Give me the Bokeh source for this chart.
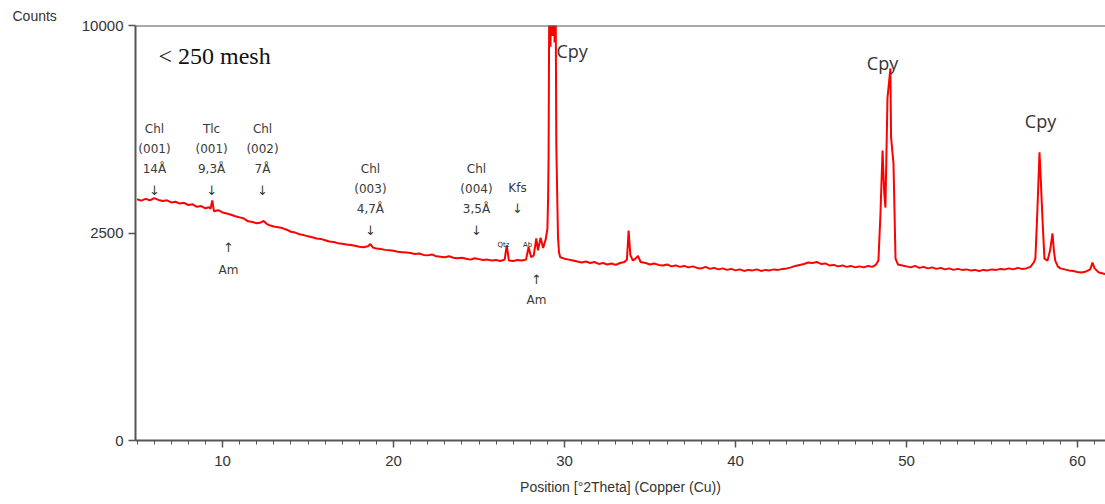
import numpy as np
from bokeh.plotting import figure
from bokeh.models import Range1d, FixedTicker, SingleIntervalTicker, Span, Title
from bokeh.core.properties import value
from bokeh.embed import file_html
from bokeh.resources import INLINE

# ---------------- data ----------------
two_theta = [
    5.00, 5.25, 5.50, 5.75, 6.00, 6.25, 6.50, 6.75, 7.00, 7.25, 7.50, 7.75, 8.00, 8.25, 8.50, 8.75,
    9.00, 9.20, 9.30, 9.40, 9.50, 9.75, 10.00, 10.25, 10.50, 10.75, 11.00, 11.25, 11.50, 11.75,
    12.00, 12.25, 12.40, 12.60, 12.75, 13.00, 13.25, 13.50, 13.75, 14.00, 14.25, 14.50, 14.75,
    15.00, 15.25, 15.50, 15.75, 16.00, 16.25, 16.50, 16.75, 17.00, 17.25, 17.50, 17.75, 18.00,
    18.25, 18.50, 18.65, 18.80, 19.00, 19.25, 19.50, 19.75, 20.00, 20.25, 20.50, 20.75, 21.00,
    21.25, 21.50, 21.75, 22.00, 22.25, 22.50, 22.75, 23.00, 23.25, 23.50, 23.75, 24.00, 24.25,
    24.50, 24.75, 25.00, 25.25, 25.50, 25.75, 26.00, 26.25, 26.50, 26.62, 26.75, 27.00, 27.25,
    27.50, 27.75, 27.90, 28.05, 28.20, 28.35, 28.45, 28.60, 28.75, 28.90, 29.00, 29.04, 29.07,
    29.12, 29.18, 29.24, 29.30, 29.36, 29.42, 29.47,
    29.52, 29.57, 29.62, 29.68, 29.75, 30.00, 30.25, 30.50, 30.75, 31.00, 31.25, 31.50, 31.75,
    32.00, 32.25, 32.50, 32.75, 33.00, 33.25, 33.50, 33.65, 33.75, 33.85, 34.00, 34.15, 34.30,
    34.45, 34.75, 35.00, 35.25, 35.50, 35.75, 36.00, 36.25, 36.50, 36.75, 37.00, 37.25, 37.50,
    37.75, 38.00, 38.25, 38.50, 38.75, 39.00, 39.25, 39.50, 39.75, 40.00, 40.25, 40.50, 40.75,
    41.00, 41.25, 41.50, 41.75, 42.00, 42.25, 42.50, 42.75, 43.00, 43.25, 43.50, 43.75, 44.00,
    44.25, 44.50, 44.75, 45.00, 45.25, 45.50, 45.75, 46.00, 46.25, 46.50, 46.75, 47.00, 47.25,
    47.50, 47.75, 48.00, 48.20, 48.36, 48.48, 48.60, 48.70, 48.77, 48.89, 49.06, 49.10, 49.24,
    49.36, 49.50, 49.75, 50.00, 50.25, 50.50, 50.75, 51.00, 51.25, 51.50, 51.75, 52.00, 52.25,
    52.50, 52.75, 53.00, 53.25, 53.50, 53.75, 54.00, 54.25, 54.50, 54.75, 55.00, 55.25, 55.50,
    55.75, 56.00, 56.25, 56.50, 56.75, 57.00, 57.25, 57.45, 57.54, 57.65, 57.78, 57.85, 57.95,
    58.07, 58.25, 58.40, 58.54, 58.62, 58.70, 58.85, 59.00, 59.25, 59.50, 59.75, 60.00, 60.25,
    60.50, 60.75, 60.88, 61.00, 61.25, 61.50, 61.75,
]
counts = [
    3380, 3340, 3390, 3350, 3410, 3360, 3330, 3350, 3290, 3310, 3260, 3280, 3220, 3240, 3170, 3190,
    3130, 3160, 3120, 3344, 3050, 3080, 3020, 2990, 2960, 2920, 2890, 2860, 2790, 2770,
    2740, 2760, 2800, 2720, 2690, 2660, 2640, 2620, 2580, 2530, 2510, 2470, 2450,
    2420, 2400, 2370, 2360, 2330, 2300, 2290, 2260, 2250, 2230, 2220, 2200, 2180,
    2170, 2190, 2240, 2160, 2140, 2130, 2110, 2100, 2090, 2070, 2060, 2050, 2040,
    2020, 2030, 2000, 1990, 2010, 1970, 1960, 1950, 1970, 1940, 1930, 1940, 1920,
    1900, 1930, 1910, 1890, 1900, 1880, 1890, 1870, 1900, 2210, 1880, 1870, 1890,
    1880, 1900, 2170, 1950, 1990, 2370, 2100, 2390, 2150, 2350, 2600, 3400, 4780,
    14000, 9000, 14000, 9500, 14000, 9200, 14000,
    5120, 3600, 2400, 2050, 1950, 1920, 1900, 1880, 1860, 1840, 1860, 1830, 1850,
    1810, 1830, 1800, 1820, 1790, 1830, 1850, 1900, 2560, 2000, 1880, 1920, 1980,
    1850, 1830, 1800, 1820, 1790, 1780, 1800, 1760, 1780, 1750, 1770, 1740, 1760,
    1730, 1720, 1750, 1710, 1730, 1700, 1720, 1690, 1710, 1680, 1700, 1670, 1690,
    1680, 1700, 1670, 1690, 1680, 1700, 1690, 1710, 1720, 1740, 1770, 1790, 1810,
    1840, 1830, 1850, 1810, 1820, 1780, 1790, 1760, 1780, 1750, 1770, 1740, 1760,
    1740, 1770, 1750, 1790, 1880, 3000, 4880, 3540, 3150, 6830, 8040, 5330, 4450,
    1920, 1800, 1780, 1760, 1740, 1770, 1730, 1750, 1720, 1740, 1710, 1730, 1700,
    1720, 1690, 1710, 1690, 1700, 1680, 1690, 1670, 1690, 1680, 1700, 1690, 1710,
    1700, 1720, 1700, 1730, 1710, 1720, 1750, 1840, 1920, 3000, 4820, 4020, 2890,
    1920, 1880, 2100, 2490, 2100, 1880, 1760, 1720, 1700, 1680, 1670, 1650, 1640,
    1660, 1700, 1840, 1720, 1640, 1620, 1600,
]
y_tick_counts = [0, 2500, 10000]
x_tick_interval = 10

# peak annotations: position (deg 2theta) and text rows
phase_x = [6.02, 9.36, 12.34, 18.65, 24.85]
phase_rows = [
    ["Chl", "(001)", "14Å", "↓"],
    ["Tlc", "(001)", "9,3Å", "↓"],
    ["Chl", "(002)", "7Å", "↓"],
    ["Chl", "(003)", "4,7Å", "↓"],
    ["Chl", "(004)", "3,5Å", "↓"],
]
cpy_x = [30.45, 48.6, 57.84]

# ---------------- plot ----------------
sq = np.sqrt(np.array(counts, dtype=float))

p = figure(width=1105, height=504, output_backend="svg", toolbar_location=None,
           x_range=Range1d(4.91, 61.64), y_range=Range1d(0, 100),
           min_border_left=135, min_border_right=0, min_border_top=25, min_border_bottom=64)
p.outline_line_color = None
p.xgrid.visible = False
p.ygrid.visible = False
p.background_fill_color = "white"

p.line(two_theta, sq, color="#ff0000", line_width=2)

axis_col = "#555555"
for ax in (p.xaxis[0], p.yaxis[0]):
    ax.axis_line_color = axis_col
    ax.axis_line_width = 2
    ax.major_tick_line_color = axis_col
    ax.major_tick_line_width = 1.5
    ax.minor_tick_line_color = axis_col
    ax.major_tick_out = 7
    ax.major_tick_in = 0
    ax.minor_tick_out = 4
    ax.minor_tick_in = 0
    ax.major_label_text_font = "Liberation Sans"
    ax.major_label_text_font_size = "15px"
    ax.major_label_text_color = "#333333"

p.xaxis.ticker = SingleIntervalTicker(interval=x_tick_interval, num_minor_ticks=10)
p.xaxis.major_label_standoff = 8
p.xaxis.axis_label = "Position [°2Theta] (Copper (Cu))"
p.xaxis.axis_label_text_font = "Liberation Sans"
p.xaxis.axis_label_text_font_style = "normal"
p.xaxis.axis_label_text_font_size = "14px"
p.xaxis.axis_label_text_color = "#333333"
p.xaxis.axis_label_standoff = 10
p.yaxis.ticker = FixedTicker(ticks=[float(np.sqrt(v)) for v in y_tick_counts])
p.yaxis.major_label_overrides = {float(np.sqrt(v)): str(v) for v in y_tick_counts}
p.yaxis.minor_tick_line_color = None
p.yaxis.major_label_standoff = 5

p.add_layout(Title(text="Counts", align="left", offset=-123, text_font="Liberation Sans",
                   text_font_size="14px", text_font_style="normal", text_color="#333333",
                   standoff=4), "above")

p.add_layout(Span(location=100, dimension="width", line_color=axis_col, line_width=2))

PXS = 415.0 / 100.0  # pixels per sqrt-count unit
def ylev(px):
    return (440.0 - px) / PXS
def xlev(px):
    return 4.91 + (px - 135.0) / 17.1

ann_font = value("DejaVu Sans")
txt_col = "#3a3a3a"

def put(x, ypx, t, size="12px", font=ann_font, color=txt_col, align="center"):
    p.text(x=[x], y=[ylev(ypx)], text=[t], text_font=font, text_font_size=size,
           text_color=color, text_align=align, text_baseline="middle")

for i, (x, rows) in enumerate(zip(phase_x, phase_rows)):
    top = 128 if i < 3 else 168
    for k, r in enumerate(rows):
        yy = top + 20 * k + (2 if r == "↓" else 0)
        put(x, yy, r, size="13px" if r == "↓" else "12px")

put(27.25, 187, "Kfs")
put(27.25, 208, "↓", size="13px")
put(10.35, 247, "↑", size="13px")
put(10.35, 269, "Am")
put(28.36, 279, "↑", size="13px")
put(28.36, 299, "Am")
put(26.43, 244, "Qtz", size="7px", color="#222222")
put(27.84, 244, "Ab", size="7px", color="#222222")

for x, ypx in zip(cpy_x, [50, 62, 120]):
    put(x, ypx, "Cpy", size="18px", font=value("Open Sans"), color="#333333")

put(xlev(158), 55, "< 250 mesh", size="24px", font=value("Liberation Serif"), color="#111111", align="left")

open("out.html", "w").write(file_html(p, INLINE))
